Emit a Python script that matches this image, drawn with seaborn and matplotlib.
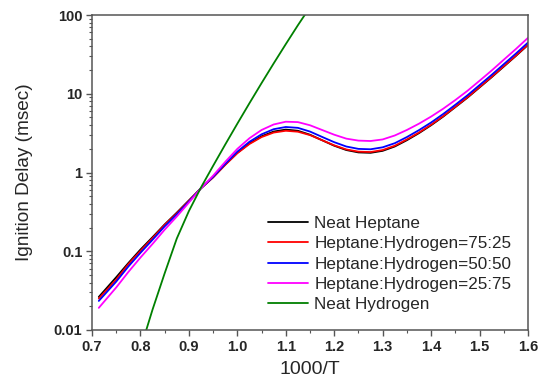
import numpy as np
import pandas as pd
import matplotlib
matplotlib.use('Agg')
import matplotlib.pyplot as plt
import matplotlib.ticker as mticker
import seaborn as sns

# 1000/T grid used for the heptane blends
x_blend = [0.714, 0.75, 0.775, 0.80, 0.825, 0.85, 0.875, 0.90, 0.925, 0.95,
           0.975, 1.00, 1.025, 1.05, 1.075, 1.10, 1.125, 1.15, 1.175, 1.20,
           1.225, 1.25, 1.275, 1.30, 1.325, 1.35, 1.375, 1.40, 1.425, 1.45,
           1.475, 1.50, 1.525, 1.55, 1.575, 1.60]

# ignition delay (msec)
neat_heptane = [0.0263, 0.0468, 0.0708, 0.105, 0.151, 0.219, 0.309, 0.442, 0.631, 0.871,
                1.259, 1.778, 2.344, 2.884, 3.311, 3.508, 3.388, 3.020, 2.570, 2.188,
                1.928, 1.799, 1.778, 1.884, 2.138, 2.570, 3.162, 3.981, 5.129, 6.761,
                8.913, 12.02, 16.22, 22.13, 30.20, 41.69]
hep_75_25 = [0.0251, 0.0437, 0.0685, 0.101, 0.147, 0.216, 0.303, 0.437, 0.631, 0.867,
             1.250, 1.758, 2.301, 2.818, 3.214, 3.388, 3.296, 2.985, 2.570, 2.213,
             1.963, 1.841, 1.820, 1.928, 2.188, 2.630, 3.221, 4.046, 5.200, 6.839,
             9.016, 12.16, 16.41, 22.39, 30.55, 42.17]
hep_50_50 = [0.0234, 0.0412, 0.0640, 0.0955, 0.140, 0.207, 0.294, 0.428, 0.631, 0.881,
             1.288, 1.841, 2.455, 3.055, 3.548, 3.784, 3.690, 3.311, 2.831, 2.427,
             2.138, 1.995, 1.972, 2.089, 2.355, 2.818, 3.451, 4.315, 5.534, 7.244,
             9.550, 12.88, 17.38, 23.71, 32.36, 44.67]
hep_25_75 = [0.0191, 0.0347, 0.0545, 0.0832, 0.124, 0.188, 0.276, 0.415, 0.631, 0.912,
             1.365, 1.995, 2.723, 3.467, 4.074, 4.416, 4.365, 3.981, 3.467, 3.020,
             2.692, 2.541, 2.512, 2.630, 2.951, 3.467, 4.169, 5.129, 6.457, 8.318,
             10.89, 14.62, 19.72, 27.04, 36.98, 51.29]

# neat hydrogen
x_h2 = [0.80, 0.825, 0.85, 0.875, 0.90, 0.925, 0.95, 0.975, 1.00, 1.025,
        1.05, 1.075, 1.10, 1.125, 1.15]
neat_h2 = [0.00575, 0.0182, 0.0525, 0.145, 0.324, 0.646, 1.216, 2.265, 4.169, 7.586,
           13.65, 24.27, 42.66, 74.13, 125.9]

labels = ['Neat Heptane', 'Heptane:Hydrogen=75:25', 'Heptane:Hydrogen=50:50',
          'Heptane:Hydrogen=25:75', 'Neat Hydrogen']
colors = ['#000000', '#FF0000', '#0000FF', '#FF00FF', '#008000']

y_ticks = [0.01, 0.1, 1, 10, 100]
y_tick_labels = ['0.01', '0.1', '1', '10', '100']
x_ticks = [0.7, 0.8, 0.9, 1.0, 1.1, 1.2, 1.3, 1.4, 1.5, 1.6]

# long-form table for seaborn
series = [neat_heptane, hep_75_25, hep_50_50, hep_25_75]
frames = [pd.DataFrame({'x': x_blend, 'y': s, 'fuel': lab}) for s, lab in zip(series, labels[:4])]
frames.append(pd.DataFrame({'x': x_h2, 'y': neat_h2, 'fuel': labels[4]}))
df = pd.concat(frames, ignore_index=True)

sns.set_style('ticks')
plt.rcParams['font.family'] = ['Liberation Sans', 'DejaVu Sans']

fig = plt.figure(figsize=(5.49, 3.83), dpi=100)
ax = fig.add_axes([0.1676, 0.1384, 0.7941, 0.8224])

sns.lineplot(data=df, x='x', y='y', hue='fuel', hue_order=labels,
             palette=dict(zip(labels, colors)), estimator=None, sort=False,
             linewidth=1.3, ax=ax)

ax.set_yscale('log')
ax.set_xlim(0.7, 1.6)
ax.set_ylim(0.01, 100)
ax.set_xticks(x_ticks)
ax.xaxis.set_minor_locator(mticker.MultipleLocator(0.05))
ax.xaxis.set_major_formatter(mticker.FormatStrFormatter('%.1f'))
ax.set_yticks(y_ticks)
ax.yaxis.set_major_formatter(mticker.FixedFormatter(y_tick_labels))
ax.yaxis.set_minor_locator(mticker.LogLocator(base=10, subs=np.arange(2, 10)))
ax.yaxis.set_minor_formatter(mticker.NullFormatter())

for sp in ax.spines.values():
    sp.set_color('#555555')
    sp.set_linewidth(1.1)
ax.tick_params(which='major', direction='out', length=4, width=1, color='#555555',
               labelsize=10.5, pad=3)
ax.tick_params(which='minor', direction='out', length=2.5, width=0.8, color='#555555')
for lab in ax.get_xticklabels() + ax.get_yticklabels():
    lab.set_fontweight('bold')

ax.set_xlabel('1000/T', fontsize=14, labelpad=5)
ax.set_ylabel('Ignition Delay (msec)', fontsize=13.7, labelpad=15)

ax.legend(loc='upper left', bbox_to_anchor=(0.404, 0.362), frameon=False,
          fontsize=12.3, handlelength=2.35, handletextpad=0.35, labelspacing=0.31,
          borderpad=0, borderaxespad=0)

fig.savefig('out.png', dpi=100)
